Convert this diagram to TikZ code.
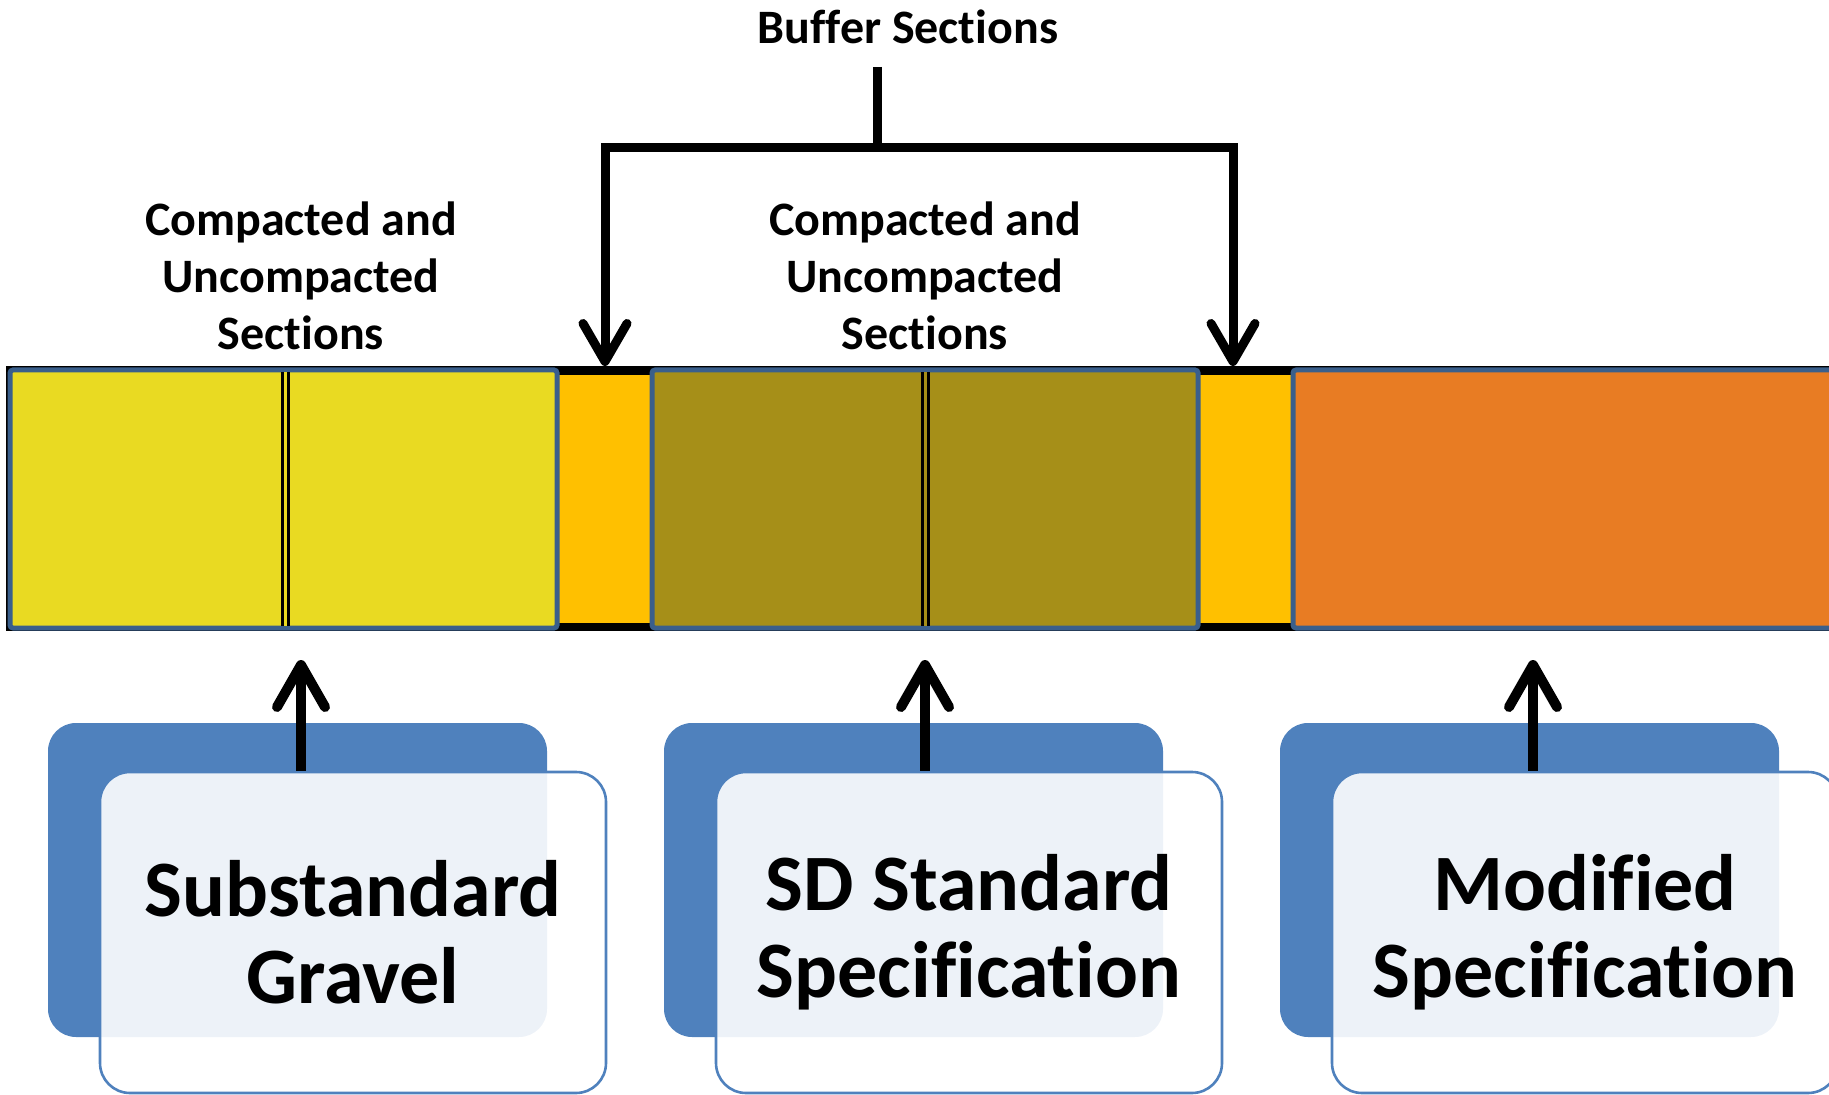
\documentclass[tikz,border=0pt]{standalone}
\usepackage{fontspec}
\setmainfont{Carlito}[Ligatures=NoCommon]
\usetikzlibrary{arrows.meta}
\definecolor{secyellow}{HTML}{E9DA22}
\definecolor{secolive}{HTML}{A68F18}
\definecolor{secorange}{HTML}{E87C23}
\definecolor{bufgold}{HTML}{FFC000}
\definecolor{secedge}{HTML}{3A5F8B}
\definecolor{accblue}{HTML}{4F81BD}
\tikzset{
  barb/.tip={Straight Barb[length=19pt,width=22pt,line cap=round,line join=round]},
  upbarb/.tip={Straight Barb[length=21pt,width=24pt,line cap=round,line join=round]},
  lbl/.style={font=\bfseries\fontsize{24}{28.5}\selectfont, align=center},
  secline/.style={draw=secedge, line width=2.5pt, rounded corners=1.5pt},
  split/.style={double=#1, double distance=1.5pt, line width=1.5pt},
  brk/.style={line width=4.5pt},
  uparr/.style={line width=5pt, -{upbarb}},
  darkbox/.style={fill=accblue, rounded corners=14pt, minimum width=249.5pt, minimum height=157pt, inner sep=0pt},
  litebox/.style={draw=accblue, line width=1.3pt, fill=white, fill opacity=0.9, text opacity=1, rounded corners=15pt,
    minimum width=253pt, minimum height=160.5pt, inner sep=0pt, align=center, font=\bfseries\fontsize{40}{43.5}\selectfont}
}
\begin{document}
\begin{tikzpicture}[x=0.5pt, y=-0.5pt]
  \useasboundingbox (0,0) rectangle (1829,1095);
  % the strip
  \fill[black] (6,366) rectangle (1860,631);
  \fill[bufgold] (9,375) rectangle (1860,623);
  \draw[secline, fill=secyellow] (10,370) rectangle (557,628);
  \draw[secline, fill=secolive] (652,370) rectangle (1198,628);
  \draw[secline, fill=secorange] (1293,370) rectangle (1860,628);
  \draw[split=secyellow] (285,372) -- (285,626);
  \draw[split=secolive] (925,372) -- (925,626);

  % labels above
  \node[lbl] (buftxt) at (908,27) {Buffer Sections};
  \node[lbl] (cu1) at (301,276) {Compacted and\\Uncompacted\\Sections};
  \node[lbl] (cu2) at (925,276) {Compacted and\\Uncompacted\\Sections};

  % bracket to the buffers
  \coordinate (bs) at (877,67);
  \coordinate (bj) at (877,148);
  \coordinate (bl) at (605,366);
  \coordinate (br) at (1233,366);
  \draw[brk] (bs) -- (bj);
  \draw[brk, -{barb}] (bj) -| (bl);
  \draw[brk, -{barb}] (bj) -| (br);

  % material boxes
  \node[darkbox] (db1) at (297.5,880) {};
  \node[litebox] (lb1) at (353,932.5) {Substandard\\Gravel};
  \node[darkbox] (db2) at (913.5,880) {};
  \node[litebox] (lb2) at (969,932.5) {SD Standard\\Specification};
  \node[darkbox] (db3) at (1529.5,880) {};
  \node[litebox] (lb3) at (1585,932.5) {Modified\\Specification};

  \coordinate (u1) at (301,660);
  \coordinate (u2) at (925,660);
  \coordinate (u3) at (1533,660);
  \draw[uparr] (lb1.north -| u1) -- (u1);
  \draw[uparr] (lb2.north -| u2) -- (u2);
  \draw[uparr] (lb3.north -| u3) -- (u3);
\end{tikzpicture}
\end{document}
